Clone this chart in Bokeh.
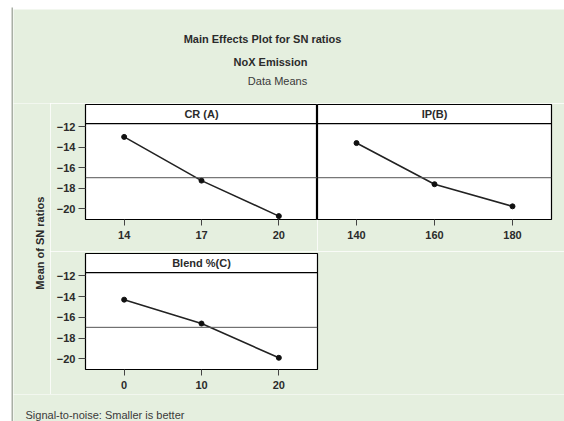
import numpy as np
from bokeh.plotting import figure
from bokeh.layouts import row, column
from bokeh.models import FixedTicker, Span, Label, Range1d
from bokeh.embed import file_html
from bokeh.resources import INLINE

# ---- data ----
cr_levels = [14, 17, 20]
cr_sn = [-13.0, -17.25, -20.7]
ip_levels = [140, 160, 180]
ip_sn = [-13.6, -17.6, -19.75]
blend_levels = [0, 10, 20]
blend_sn = [-14.3, -16.6, -19.9]
y_ticks = [-12, -14, -16, -18, -20]
panel_names = ["CR (A)", "IP(B)", "Blend %(C)"]
title_lines = ["Main Effects Plot for SN ratios", "NoX Emission", "Data Means"]
y_title = "Mean of SN ratios"
footer = "Signal-to-noise: Smaller is better"

grand_mean = float(np.mean(cr_sn + ip_sn + blend_sn))

BG = "#e5efdf"
EDGE = "#a9afa5"
INK = "#2b2b2b"
FONT = "Liberation Sans"

Y_LO, Y_STRIP, Y_HI = -21.03, -11.7, -9.85


def blank(width, height, xr=(0, 1), yr=(0, 1), bg=BG, frame_bg=None, ml=0, mr=0, mt=0, mb=0):
    p = figure(width=width, height=height, x_range=Range1d(*xr), y_range=Range1d(*yr),
               output_backend="svg", toolbar_location=None,
               min_border_left=ml, min_border_right=mr, min_border_top=mt, min_border_bottom=mb)
    p.axis.visible = False
    p.grid.visible = False
    p.outline_line_color = None
    p.border_fill_color = bg
    p.background_fill_color = frame_bg if frame_bg else bg
    return p


def panel(levels, vals, name, xr, width, height, ml, mr, mt, mb, show_y):
    p = figure(width=width, height=height, x_range=Range1d(*xr), y_range=Range1d(Y_LO, Y_HI),
               output_backend="svg", toolbar_location=None,
               min_border_left=ml, min_border_right=mr, min_border_top=mt, min_border_bottom=mb)
    p.grid.visible = False
    p.background_fill_color = "white"
    p.border_fill_color = BG
    p.outline_line_color = "black"
    p.outline_line_width = 1.2
    p.xaxis.ticker = FixedTicker(ticks=levels)
    p.yaxis.ticker = FixedTicker(ticks=y_ticks)
    for ax in (p.xaxis, p.yaxis):
        ax.axis_line_color = None
        ax.major_tick_in = 0
        ax.minor_tick_line_color = None
        ax.major_tick_line_color = "#444444"
        ax.major_label_text_font = FONT
        ax.major_label_text_font_style = "bold"
        ax.major_label_text_font_size = "11px"
        ax.major_label_text_color = INK
    p.xaxis.major_tick_out = 6
    p.xaxis.major_label_standoff = 5
    p.yaxis.major_tick_out = 7
    p.yaxis.major_label_standoff = 3
    if not show_y:
        p.yaxis.visible = False
    p.add_layout(Span(location=Y_STRIP, dimension="width", line_color="black", line_width=1.3))
    p.add_layout(Span(location=grand_mean, dimension="width", line_color="#555555", line_width=1))
    p.line(levels, vals, line_color="#222222", line_width=1.6)
    p.scatter(levels, vals, size=5, fill_color="#111111", line_color="#111111")
    p.add_layout(Label(x=(xr[0] + xr[1]) / 2, y=(Y_STRIP + Y_HI) / 2, text=name,
                       text_align="center", text_baseline="middle", text_font=FONT,
                       text_font_style="bold", text_font_size="11px", text_color=INK))
    return p


# left page edge: white gap then grey border line
left_edge = blank(13, 421, bg="white", frame_bg=EDGE, ml=11, mt=7)
top_edge = blank(551, 9, bg="white", frame_bg=EDGE, mt=7)

# title block
title_fig = blank(551, 94, xr=(0, 551), yr=(0, 94))
for txt, x, y, style in zip(title_lines, [249, 257, 264], [65, 42, 23], ["bold", "bold", "normal"]):
    title_fig.add_layout(Label(x=x, y=y, text=txt, text_align="center", text_baseline="middle",
                               text_font=FONT, text_font_style=style, text_font_size="11px",
                               text_color=INK if style == "bold" else "#3a3a3a"))

# y-axis title spanning both panel rows
ylab_fig = blank(37, 291)
ylab_fig.add_layout(Label(x=0.72, y=0.52, text=y_title, angle=np.pi / 2, text_align="center",
                          text_baseline="middle", text_font=FONT, text_font_style="bold",
                          text_font_size="11px", text_color=INK))

cr_fig = panel(cr_levels, cr_sn, panel_names[0], (12.5, 21.5), 267, 148, 35, 0, 1, 32, True)
ip_fig = panel(ip_levels, ip_sn, panel_names[1], (130, 190), 247, 148, 0, 13, 1, 32, False)
bl_fig = panel(blend_levels, blend_sn, panel_names[2], (-5, 25), 514, 143, 35, 247, 2, 25, True)

footer_fig = blank(551, 27, xr=(0, 551), yr=(0, 27))
footer_fig.add_layout(Label(x=12, y=1, text=footer, text_align="left", text_baseline="bottom",
                            text_font=FONT, text_font_size="11px", text_color="#3a3a3a"))

layout = row(left_edge,
             column(top_edge, title_fig,
                    row(ylab_fig, column(row(cr_fig, ip_fig, spacing=0), bl_fig, spacing=0), spacing=0),
                    footer_fig, spacing=0),
             spacing=0)

open("out.html", "w").write(file_html(layout, INLINE))
